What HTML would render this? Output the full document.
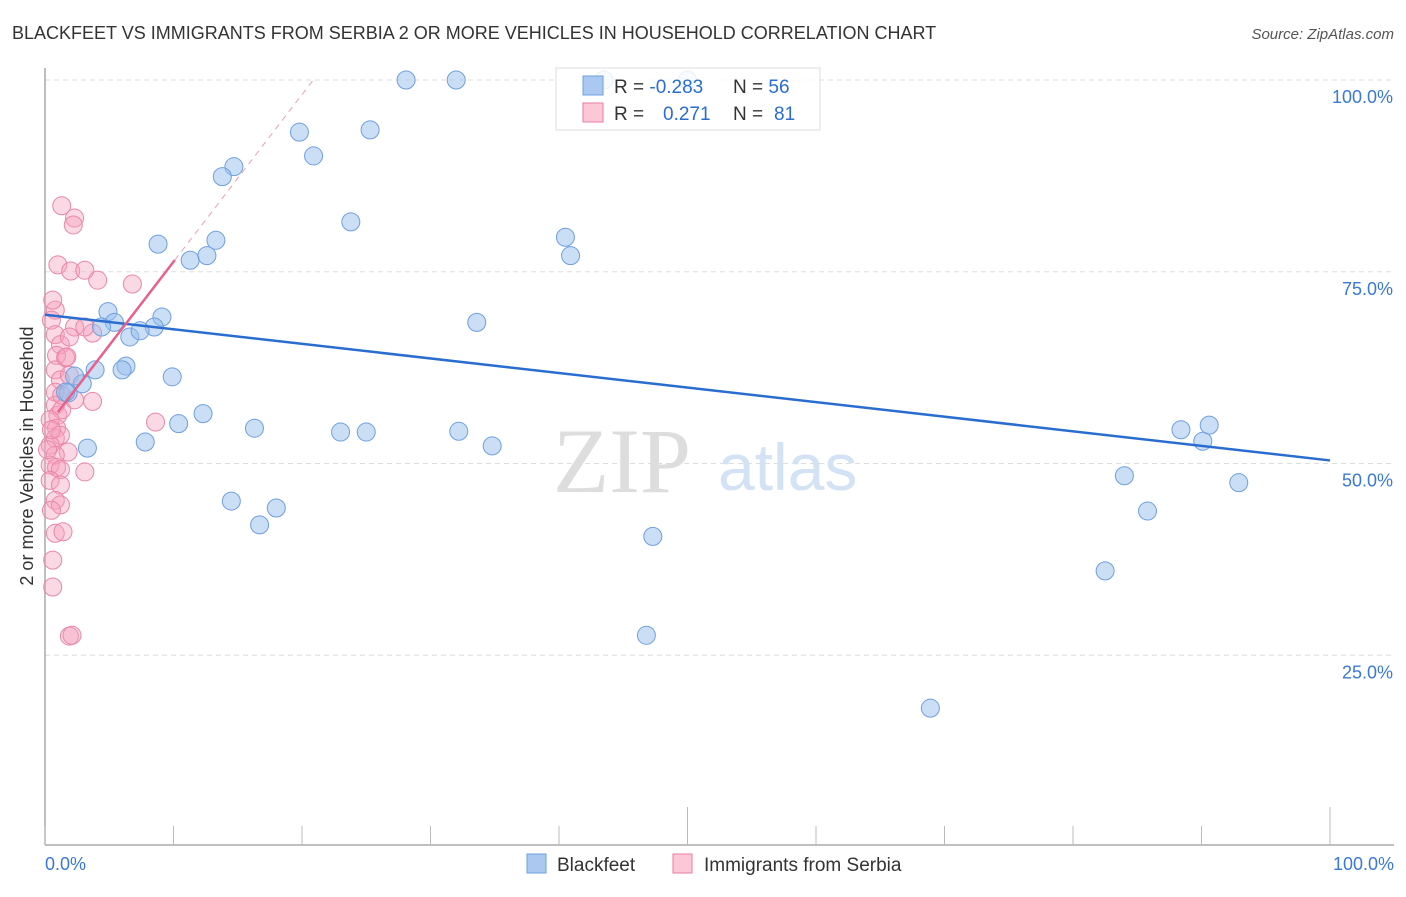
<!DOCTYPE html>
<html><head><meta charset="utf-8"><style>
body{margin:0;background:#fff;font-family:"Liberation Sans",sans-serif;}
</style></head><body>
<svg id="chart" width="1406" height="892" xmlns="http://www.w3.org/2000/svg" font-family="Liberation Sans, sans-serif">
<text x="12" y="39" font-size="18" fill="#333">BLACKFEET VS IMMIGRANTS FROM SERBIA 2 OR MORE VEHICLES IN HOUSEHOLD CORRELATION CHART</text>
<text x="1394" y="39" font-size="15" fill="#555" font-style="italic" text-anchor="end">Source: ZipAtlas.com</text>
<text transform="translate(33,456) rotate(-90)" font-size="18" fill="#333" text-anchor="middle">2 or more Vehicles in Household</text>
<g id="grid"></g>
<text x="553" y="492" font-size="92" fill="#ddd" font-family="Liberation Serif, serif">ZIP</text>
<text x="718" y="490" font-size="66" fill="#d4e2f5">atlas</text>
<g id="marks"></g>
<g>
<rect x="556" y="68" width="264" height="62" fill="#fff" fill-opacity="0.85" stroke="#ddd"/>
<rect x="583" y="76" width="20" height="19" fill="#aac8f0" stroke="#6f9fdf"/>
<rect x="583" y="103" width="20" height="19" fill="#fcc8d8" stroke="#e87ca0"/>
<text x="614" y="93" font-size="19" fill="#333">R = <tspan fill="#2a6dd0">-0.283</tspan></text>
<text x="733" y="93" font-size="19" fill="#333">N = <tspan fill="#2a6dd0">56</tspan></text>
<text x="614" y="120" font-size="19" fill="#333">R = <tspan fill="#2a6dd0" x="663">0.271</tspan></text>
<text x="733" y="120" font-size="19" fill="#333">N = <tspan fill="#2a6dd0" x="774">81</tspan></text>
</g>
<g>
<rect x="527" y="854" width="19" height="19" fill="#aac8f0" stroke="#6f9fdf"/>
<text x="557" y="871" font-size="19" fill="#333">Blackfeet</text>
<rect x="673" y="854" width="19" height="19" fill="#fcc8d8" stroke="#e87ca0"/>
<text x="704" y="871" font-size="19" fill="#333">Immigrants from Serbia</text>
</g>
</svg>
<script>
const yTicks=[25,50,75,100];
const yTickLabels=["25.0%","50.0%","75.0%","100.0%"];
const xTickLabels=["0.0%","100.0%"];
const blackfeetX=[28.1,32.0,43.5,50.0,19.8,25.3,20.9,14.7,13.8,23.8,8.8,13.3,11.3,12.6,40.5,40.9,4.9,9.1,33.6,5.4,4.4,8.5,6.6,7.4,6.3,6.0,3.9,9.9,2.9,1.8,2.3,7.8,10.4,12.3,16.3,23.0,25.0,32.2,34.8,3.3,14.5,16.7,18.0,47.3,46.8,84.0,85.8,82.5,68.9,88.4,90.6,90.1,92.9,1.6];
const blackfeetY=[100,100,100,100,93.2,93.5,90.1,88.7,87.4,81.5,78.6,79.1,76.5,77.1,79.5,77.1,69.8,69.1,68.4,68.4,67.8,67.8,66.5,67.3,62.7,62.2,62.2,61.3,60.4,59.2,61.4,52.8,55.2,56.5,54.6,54.1,54.1,54.2,52.3,52.0,45.1,42.0,44.2,40.5,27.6,48.4,43.8,36.0,18.1,54.4,55.0,52.9,47.5,59.3];
const serbiaX=[1.3,2.3,2.2,1.0,2.0,3.1,4.1,6.8,0.8,0.5,2.3,3.7,3.1,0.8,1.2,1.9,0.9,1.6,0.8,1.2,1.9,0.8,3.7,0.8,1.0,1.3,0.4,0.9,0.8,1.2,0.4,1.8,0.8,0.4,0.9,1.2,3.1,0.4,1.2,0.8,1.2,0.5,0.8,1.4,0.6,0.6,1.9,2.1,8.6,0.5,0.2,1.3,2.3,1.7,0.6];
const serbiaY=[83.6,82.0,81.1,75.9,75.1,75.2,73.9,73.4,70.0,68.7,67.8,67.0,67.8,66.8,65.5,66.5,64.1,63.8,62.2,60.9,61.5,59.3,58.1,57.6,56.3,57.0,55.7,54.6,53.3,53.7,52.4,51.5,51.1,49.8,49.5,49.2,48.9,47.8,47.2,45.2,44.6,43.9,40.9,41.1,37.4,33.9,27.5,27.6,55.4,54.4,51.8,58.9,58.3,63.9,71.3];
const blueTrend=[69.4,50.4];
const pinkTrend=[54.5,2.18];
const NS="http://www.w3.org/2000/svg";
const sx=v=>45+v*12.85, sy=v=>847-v*7.67;
function mk(t,a,p){const e=document.createElementNS(NS,t);for(const k in a)e.setAttribute(k,a[k]);p.appendChild(e);return e;}
const grid=document.getElementById('grid'), marks=document.getElementById('marks');
yTicks.forEach((t,i)=>{
 const l=mk('line',{x1:45,x2:1394,y1:sy(t),y2:sy(t),stroke:'#ddd','stroke-dasharray':'5,4'},grid);
 
 
 const tx=mk('text',{x:1393,y:sy(t)+23,'font-size':18,fill:'#3a78d8','text-anchor':'end'},grid);
 tx.textContent=yTickLabels[i];
 
 
});
const ax=mk('line',{x1:45,x2:1394,y1:845,y2:845,stroke:'#aaa','stroke-width':1.5},grid);


const ay=mk('line',{x1:45,x2:45,y1:68,y2:845,stroke:'#aaa','stroke-width':1.5},grid);


for(let i=0;i<=10;i++){
 const tk=mk('line',{x1:sx(i*10),x2:sx(i*10),y1:(i==5||i==10)?807:826,y2:845,stroke:'#bbb'},grid);
 
 
}
[[0,'start',45],[1,'end',1394]].forEach(([i,a,x])=>{
 const tx=mk('text',{x:x,y:870,'font-size':18,fill:'#3a78d8','text-anchor':a},grid);
 tx.textContent=xTickLabels[i];
 
 
});
serbiaX.forEach((x,i)=>{
 const c=mk('circle',{cx:sx(x),cy:sy(serbiaY[i]),r:9,fill:'rgba(245,160,188,0.4)',stroke:'#ea86a8','stroke-width':1},marks);
 
 
});
blackfeetX.forEach((x,i)=>{
 const c=mk('circle',{cx:sx(x),cy:sy(blackfeetY[i]),r:9,fill:'rgba(150,190,238,0.5)',stroke:'#6f9fdf','stroke-width':1},marks);
 
 
});
const bl=mk('line',{x1:sx(0),y1:sy(blueTrend[0]),x2:sx(100),y2:sy(blueTrend[1]),stroke:'#2a6dd0','stroke-width':2.5},marks);


const pe=(100-pinkTrend[0])/pinkTrend[1];
const pd=mk('line',{x1:sx(10.1),y1:sy(pinkTrend[0]+pinkTrend[1]*10.1),x2:sx(pe),y2:sy(100),stroke:'#eaa0b8','stroke-width':1,'stroke-dasharray':'6,5'},marks);


const pl=mk('line',{x1:sx(1),y1:sy(pinkTrend[0]+pinkTrend[1]*1),x2:sx(10.1),y2:sy(pinkTrend[0]+pinkTrend[1]*10.1),stroke:'#e8608c','stroke-width':2.5},marks);


</script>
</body></html>
